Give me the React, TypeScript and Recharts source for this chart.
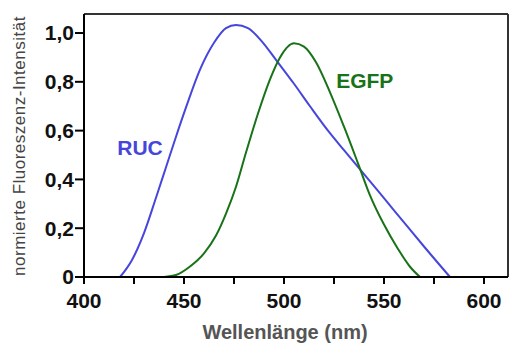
import { LineChart, Line, XAxis, YAxis, ReferenceLine, ReferenceDot } from 'recharts';

// Wellenlänge (nm) und normierte Intensität
const rucWavelength = [418, 424, 430, 436, 441, 446, 451, 458, 465, 471, 476, 482, 489, 496, 505, 513, 522, 530, 540, 550, 560, 570, 583];
const rucIntensity = [0, 0.07, 0.18, 0.325, 0.45, 0.575, 0.695, 0.85, 0.96, 1.02, 1.033, 1.02, 0.965, 0.89, 0.792, 0.7, 0.6, 0.52, 0.422, 0.323, 0.224, 0.125, 0];

const egfpWavelength = [440, 446, 453, 460, 466, 471, 476, 481, 487, 493, 498, 505, 510, 516, 523, 530, 537, 543, 550, 557, 563, 568];
const egfpIntensity = [0, 0.008, 0.043, 0.097, 0.17, 0.26, 0.37, 0.51, 0.67, 0.81, 0.9, 0.958, 0.944, 0.88, 0.757, 0.616, 0.466, 0.335, 0.215, 0.115, 0.042, 0];

const xTicks = [400, 425, 450, 475, 500, 525, 550, 575, 600];
const yTicks = [0, 0.2, 0.4, 0.6, 0.8, 1.0];

const X_MAX = 612;
const Y_MAX = 1.078;

const FONT = '"Liberation Sans", Arial, sans-serif';
const BLUE = '#4646dc';
const GREEN = '#187318';

const rucData = rucWavelength.map((x, i) => ({ x, y: rucIntensity[i] }));
const egfpData = egfpWavelength.map((x, i) => ({ x, y: egfpIntensity[i] }));

const tickStyle = { fontSize: 21, fontWeight: 'bold', fill: '#111', fontFamily: FONT };

export default function App() {
  return (
    <div style={{ position: 'absolute', left: 0, top: 0 }}>
      <LineChart width={509} height={345} margin={{ top: 14, right: 1, left: 0, bottom: 0 }}>
        <XAxis
          dataKey="x"
          type="number"
          domain={[400, X_MAX]}
          ticks={xTicks}
          tickFormatter={(v: number) => (v % 50 === 0 ? String(v) : '')}
          height={68}
          tickSize={7}
          tickMargin={9}
          stroke="#000"
          strokeWidth={2}
          tick={tickStyle}
          label={() => (
            <text x={285} y={339} textAnchor="middle" fontSize={20} fontWeight="bold" fill="#555" fontFamily={FONT}>
              Wellenlänge (nm)
            </text>
          )}
        />
        <YAxis
          type="number"
          domain={[0, Y_MAX]}
          ticks={yTicks}
          tickFormatter={(v: number) => (v === 0 ? '0' : v.toFixed(1).replace('.', ','))}
          width={84}
          tickSize={9}
          tickMargin={1}
          stroke="#000"
          strokeWidth={2}
          tick={tickStyle}
          label={() => (
            <text
              x={19}
              y={146}
              textAnchor="middle"
              dominantBaseline="central"
              transform="rotate(-90 19 146)"
              fontSize={17}
              letterSpacing={0.5}
              fill="#444"
              fontFamily={FONT}
            >
              normierte Fluoreszenz-Intensität
            </text>
          )}
        />
        <ReferenceLine y={Y_MAX} stroke="#333" strokeWidth={2} />
        <ReferenceLine x={X_MAX} stroke="#333" strokeWidth={2} />
        <Line data={rucData} dataKey="y" type="monotone" stroke={BLUE} strokeWidth={2} dot={false} isAnimationActive={false} />
        <Line data={egfpData} dataKey="y" type="monotone" stroke={GREEN} strokeWidth={2} dot={false} isAnimationActive={false} />
        <ReferenceDot
          x={428}
          y={0.529}
          r={0}
          fill="none"
          stroke="none"
          label={{ value: 'RUC', position: 'center', fill: BLUE, fontSize: 21, fontWeight: 'bold', fontFamily: FONT }}
        />
        <ReferenceDot
          x={540.4}
          y={0.807}
          r={0}
          fill="none"
          stroke="none"
          label={{ value: 'EGFP', position: 'center', fill: GREEN, fontSize: 21, fontWeight: 'bold', fontFamily: FONT }}
        />
      </LineChart>
    </div>
  );
}
